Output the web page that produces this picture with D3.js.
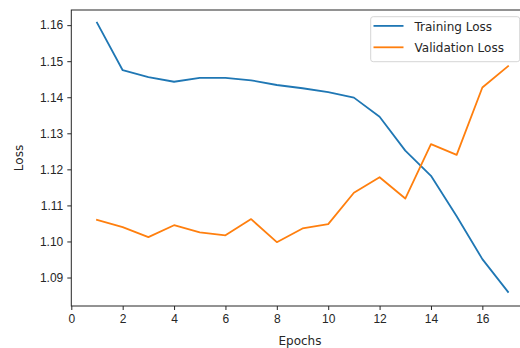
<!DOCTYPE html>
<html lang="en">
<head>
  <meta charset="utf-8">
  <title>Loss</title>
  <script src="https://cdn.jsdelivr.net/npm/d3@7"></script>
  <style>
    body { margin: 0; background: #fff; }
    svg { display: block; font-family: "DejaVu Sans", sans-serif; }
    .tick text { font-size: 12px; fill: #262626; }
  </style>
</head>
<body>
<div id="chart"></div>
<script>
  // data
  var epochs = [1, 2, 3, 4, 5, 6, 7, 8, 9, 10, 11, 12, 13, 14, 15, 16, 17];
  var trainLoss = [1.1607, 1.1475, 1.1456, 1.1443, 1.1454, 1.1454, 1.1447, 1.1434, 1.1425, 1.1414,
    1.1399, 1.1346, 1.1252, 1.1182, 1.1070, 1.0951, 1.0860];
  var valLoss = [1.1060, 1.1040, 1.1012, 1.1045, 1.1025, 1.1017, 1.1062, 1.0998, 1.1036, 1.1048,
    1.1135, 1.1178, 1.1119, 1.1270, 1.1240, 1.1427, 1.1486];
  var xTicks = [0, 2, 4, 6, 8, 10, 12, 14, 16];
  var yTicks = [1.09, 1.10, 1.11, 1.12, 1.13, 1.14, 1.15, 1.16];
  var seriesNames = ["Training Loss", "Validation Loss"];
  var colors = ["#1f77b4", "#ff7f0e"];

  var W = 520, H = 348;
  var mLeft = 71.3, mRight = 528.6, mTop = 10, mBottom = 306;

  var svg = d3.select("#chart").append("svg").attr("width", W).attr("height", H);

  var x = d3.scaleLinear().domain([0, 17.8]).range([mLeft, mRight]);
  var y = d3.scaleLinear().domain([1.0821, 1.1642]).range([mBottom, mTop]);

  // axes
  var xAxis = svg.append("g")
    .attr("transform", "translate(0," + mBottom + ")")
    .call(d3.axisBottom(x).tickValues(xTicks).tickSize(4).tickPadding(4).tickFormat(d3.format("d")));
  var yAxis = svg.append("g")
    .attr("transform", "translate(" + mLeft + ",0)")
    .call(d3.axisLeft(y).tickValues(yTicks).tickSize(4).tickPadding(4).tickFormat(d3.format(".2f")));
  [xAxis, yAxis].forEach(function (a) {
    a.select(".domain").remove();
    a.selectAll(".tick line").attr("stroke", "#262626").attr("stroke-width", 1);
  });

  // spines (right one falls outside the picture)
  svg.append("rect")
    .attr("x", mLeft).attr("y", mTop)
    .attr("width", mRight - mLeft).attr("height", mBottom - mTop)
    .attr("fill", "none").attr("stroke", "#262626").attr("stroke-width", 1);

  var line = d3.line()
    .x(function (d, i) { return x(epochs[i]); })
    .y(function (d) { return y(d); });

  [trainLoss, valLoss].forEach(function (s, i) {
    svg.append("path")
      .datum(s)
      .attr("d", line)
      .attr("fill", "none")
      .attr("stroke", colors[i])
      .attr("stroke-width", 1.8)
      .attr("stroke-linejoin", "round")
      .attr("stroke-linecap", "square");
  });

  // labels
  svg.append("text")
    .attr("x", (mLeft + mRight) / 2).attr("y", 345)
    .attr("text-anchor", "middle").attr("font-size", 12).attr("fill", "#262626").text("Epochs");
  svg.append("text")
    .attr("transform", "translate(23," + (mTop + mBottom) / 2 + ") rotate(-90)")
    .attr("text-anchor", "middle").attr("font-size", 12).attr("fill", "#262626").text("Loss");

  // legend
  var lg = svg.append("g");
  lg.append("rect")
    .attr("x", 370.7).attr("y", 16.7).attr("width", 149).attr("height", 45)
    .attr("rx", 2.5)
    .attr("fill", "#fff").attr("fill-opacity", 0.8)
    .attr("stroke", "#d6d6d6").attr("stroke-width", 1);
  seriesNames.forEach(function (name, i) {
    var ly = 25.9 + i * 21.4;
    lg.append("line")
      .attr("x1", 373.5).attr("x2", 403.5).attr("y1", ly).attr("y2", ly)
      .attr("stroke", colors[i]).attr("stroke-width", 1.8);
    lg.append("text")
      .attr("x", 414.5).attr("y", ly + 5)
      .attr("font-size", 12).attr("fill", "#262626").text(name);
  });
</script>
</body>
</html>
